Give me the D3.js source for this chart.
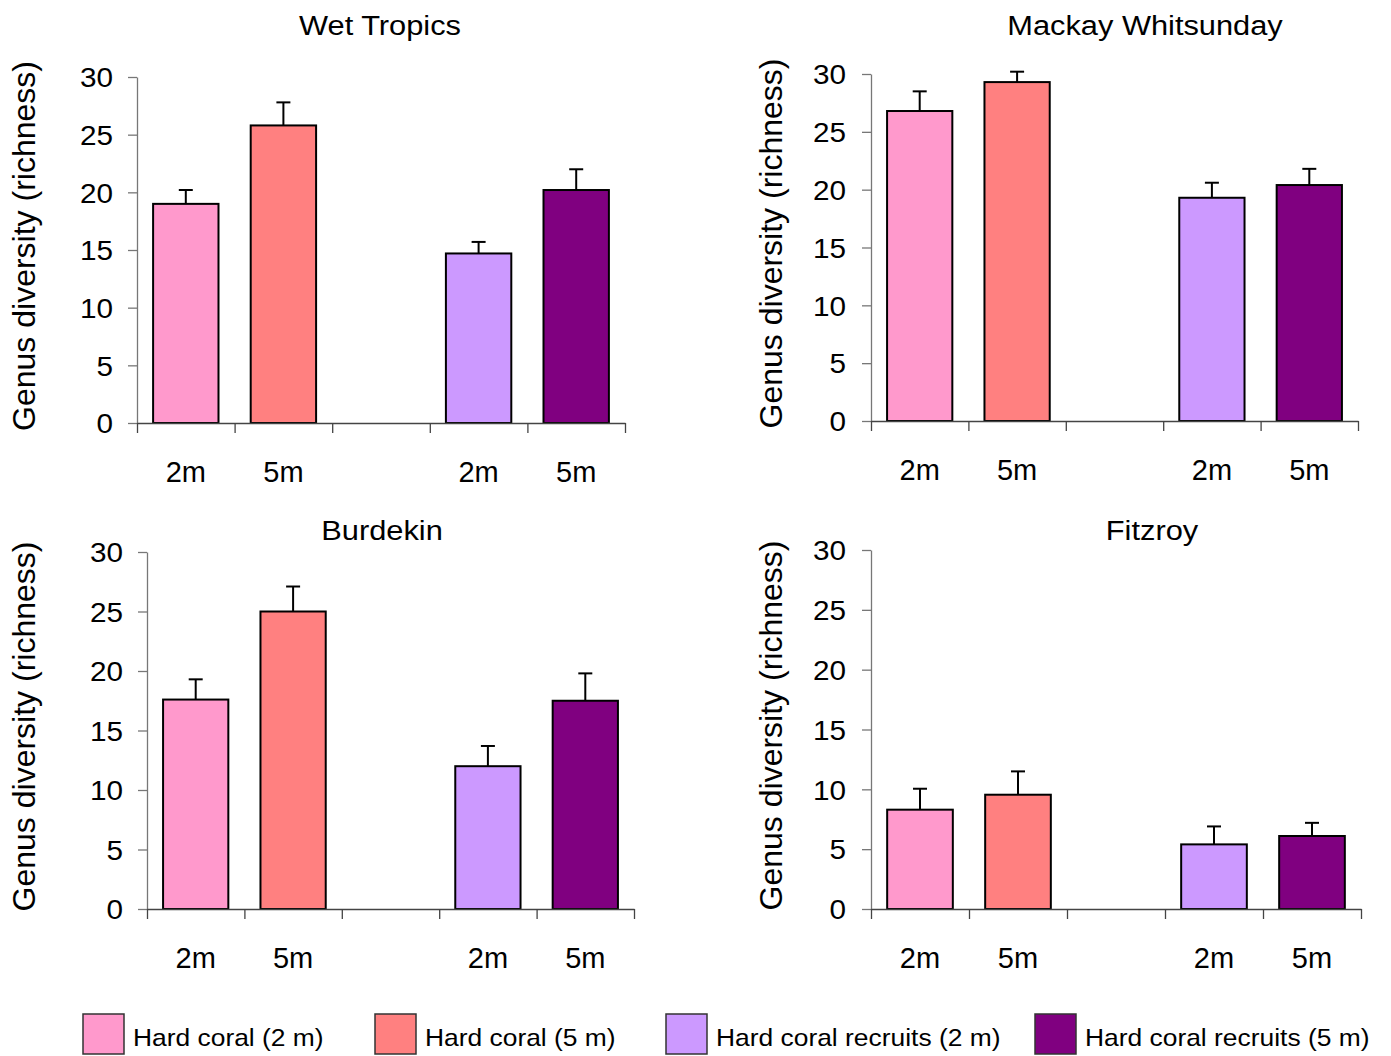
<!DOCTYPE html>
<html>
<head>
<script src="https://d3js.org/d3.v7.min.js"></script>
<style>
	body { margin: 0; background: #fff; }
	svg text { font-family: 'Liberation Sans', Arial, sans-serif; fill: #000; }
</style>
</head>
<body>
<div id="chart"></div>
<script>

	// data
	var regions = ["Wet Tropics", "Mackay Whitsunday", "Burdekin", "Fitzroy"];
	var seriesNames = ["Hard coral (2 m)", "Hard coral (5 m)", "Hard coral recruits (2 m)", "Hard coral recruits (5 m)"];
	var slotLabels = ["2m", "5m", "", "2m", "5m"];
	var seriesSlots = [0, 1, 3, 4];
	var yTicks = [0, 5, 10, 15, 20, 25, 30];

	var wetTropics = [19.0, 25.8, 14.7, 20.2];
	var wetTropicsErr = [1.2, 2.0, 1.0, 1.8];
	var mackay = [26.8, 29.3, 19.3, 20.4];
	var mackayErr = [1.7, 0.9, 1.3, 1.4];
	var burdekin = [17.6, 25.0, 12.0, 17.5];
	var burdekinErr = [1.7, 2.1, 1.7, 2.3];
	var fitzroy = [8.3, 9.55, 5.4, 6.1];
	var fitzroyErr = [1.75, 1.95, 1.5, 1.1];

	var colors = ["#ff99cc", "#ff8080", "#cc99ff", "#800080"];

	var values = [wetTropics, mackay, burdekin, fitzroy];
	var errors = [wetTropicsErr, mackayErr, burdekinErr, fitzroyErr];

	// panel frames (pixels)
	var frames = [
		{x0: 137, x1: 625, y0: 423, y1: 77, tx: 380, ty: 35, lx: 35, pad: 15},
		{x0: 871, x1: 1358, y0: 421, y1: 74, tx: 1145, ty: 35, lx: 782, pad: 16},
		{x0: 147, x1: 634, y0: 909, y1: 552, tx: 382, ty: 540, lx: 35, pad: 15},
		{x0: 871, x1: 1361, y0: 909, y1: 550, tx: 1152, ty: 540, lx: 782, pad: 16}
	];

	var svg = d3.select("#chart").append("svg")
		.attr("width", 1391)
		.attr("height", 1056);

	// widen text a little, the source font renders wider than Arial
	function stretch(sel, sx){
		sel.each(function(){
			var t = d3.select(this);
			var x = +t.attr("x") || 0;
			var y = +t.attr("y") || 0;
			t.attr("x", null).attr("y", null)
				.attr("transform", "translate(" + x + "," + y + ") scale(" + sx + ",1)");
		});
	}

	frames.forEach(function(f, p){
		var g = svg.append("g");

		var y = d3.scaleLinear().domain([0, 30]).range([f.y0, f.y1]);
		var xb = d3.scaleBand().domain(d3.range(slotLabels.length)).range([f.x0, f.x1]);
		var xl = d3.scaleLinear().domain([0, slotLabels.length]).range([f.x0, f.x1]);

		// y axis
		var ya = g.append("g")
			.attr("transform", "translate(" + f.x0 + ",0)")
			.call(d3.axisLeft(y).tickValues(yTicks).tickSize(9).tickSizeOuter(0).tickPadding(f.pad));
		ya.selectAll("path, line").attr("stroke", "#777").attr("stroke-width", 1.3);
		ya.selectAll("text").style("font-size", "27px").attr("dy", "0.36em");
		stretch(ya.selectAll("text"), 1.1);

		// bars
		g.selectAll("rect.bar")
			.data(values[p])
			.enter().append("rect")
			.attr("class", "bar")
			.attr("x", function(d, i){ return xb(seriesSlots[i]) + xb.bandwidth() * 0.165; })
			.attr("width", xb.bandwidth() * 0.67)
			.attr("y", function(d){ return y(d); })
			.attr("height", function(d){ return y(0) - y(d); })
			.attr("fill", function(d, i){ return colors[i]; })
			.attr("stroke", "#000")
			.attr("stroke-width", 2);

		// error bars (upper only)
		var eb = g.selectAll("g.err")
			.data(values[p])
			.enter().append("g")
			.attr("class", "err")
			.attr("transform", function(d, i){ return "translate(" + (xb(seriesSlots[i]) + xb.bandwidth() / 2) + ",0)"; });
		eb.append("line")
			.attr("y1", function(d){ return y(d); })
			.attr("y2", function(d, i){ return y(d + errors[p][i]); })
			.attr("stroke", "#000").attr("stroke-width", 2);
		eb.append("line")
			.attr("x1", -7).attr("x2", 7)
			.attr("y1", function(d, i){ return y(d + errors[p][i]); })
			.attr("y2", function(d, i){ return y(d + errors[p][i]); })
			.attr("stroke", "#000").attr("stroke-width", 2);

		// x axis with ticks between slots
		var xa = g.append("g")
			.attr("transform", "translate(0," + f.y0 + ")")
			.call(d3.axisBottom(xl).tickValues(d3.range(slotLabels.length + 1)).tickSize(10).tickSizeOuter(0).tickFormat(""));
		xa.selectAll("path, line").attr("stroke", "#444").attr("stroke-width", 1.3);

		// slot labels
		var xt = g.append("g")
			.attr("transform", "translate(0," + f.y0 + ")")
			.call(d3.axisBottom(xb).tickSize(0).tickFormat(function(i){ return slotLabels[i]; }));
		xt.select(".domain").remove();
		xt.selectAll("text").style("font-size", "29px").attr("y", 59).attr("dy", 0);

		// title
		var title = g.append("text")
			.attr("x", f.tx).attr("y", f.ty)
			.attr("text-anchor", "middle")
			.style("font-size", "28px")
			.text(regions[p]);
		stretch(title, 1.1);

		// y label
		g.append("text")
			.attr("transform", "translate(" + f.lx + "," + ((f.y0 + f.y1) / 2 - 4) + ") rotate(-90)")
			.attr("text-anchor", "middle")
			.style("font-size", "32px")
			.text("Genus diversity (richness)");
	});

	// legend
	var legendX = [83, 375, 666, 1035];
	var lg = svg.append("g");
	var items = lg.selectAll("g")
		.data(seriesNames)
		.enter().append("g")
		.attr("transform", function(d, i){ return "translate(" + legendX[i] + ",1014)"; });
	items.append("rect")
		.attr("width", 41).attr("height", 40)
		.attr("fill", function(d, i){ return colors[i]; })
		.attr("stroke", "#333").attr("stroke-width", 1.5);
	items.append("text")
		.attr("x", 50).attr("y", 32)
		.style("font-size", "24px")
		.text(function(d){ return d; });
	stretch(items.selectAll("text"), 1.1);

</script>
</body>
</html>
